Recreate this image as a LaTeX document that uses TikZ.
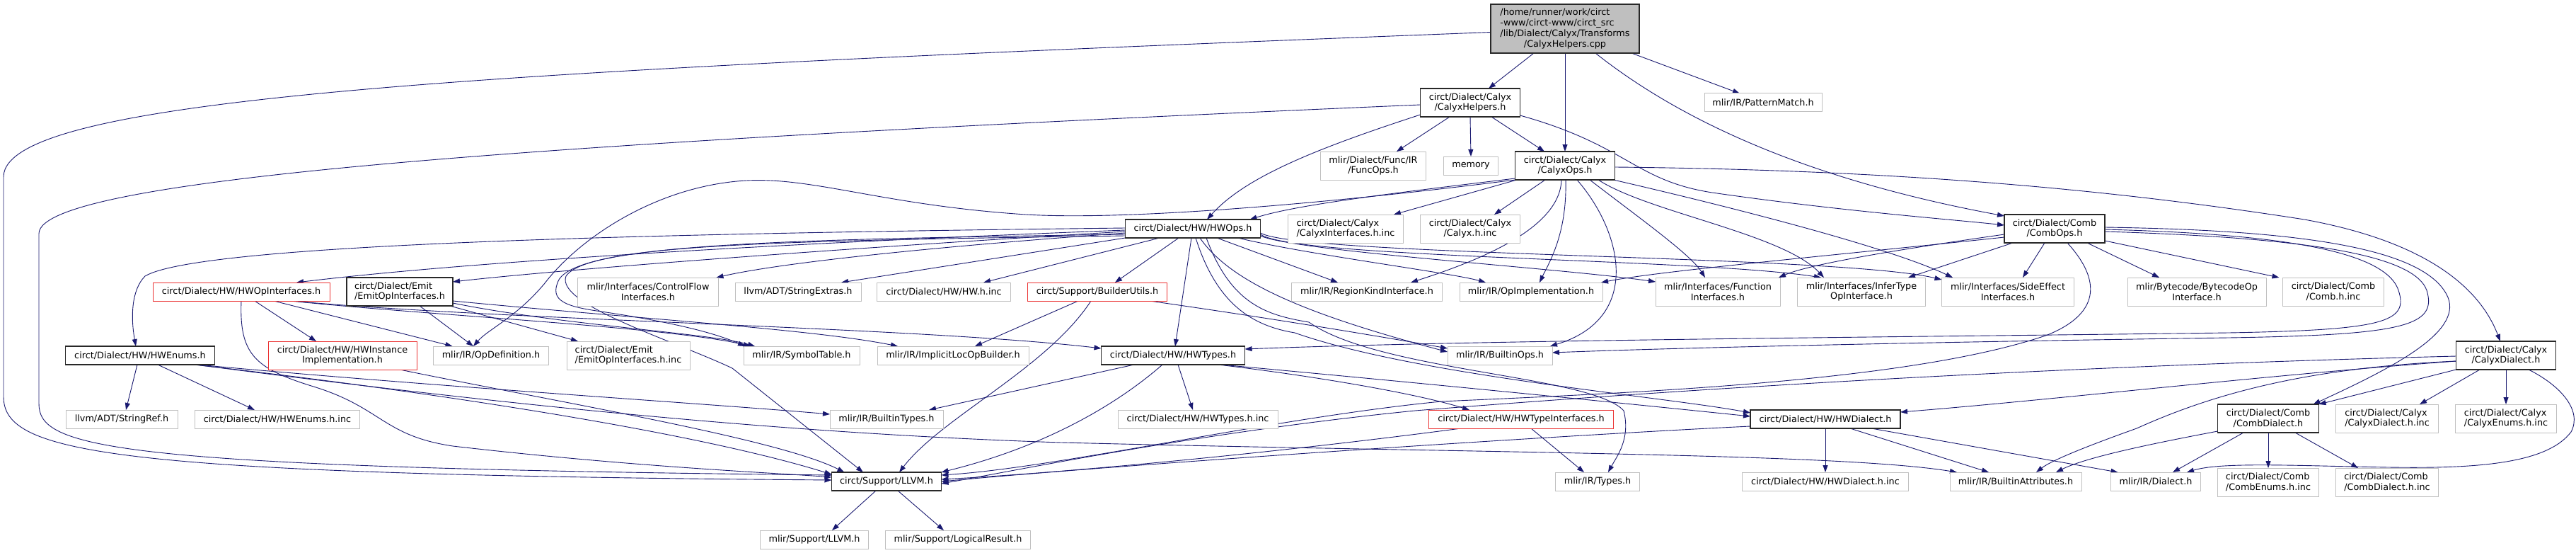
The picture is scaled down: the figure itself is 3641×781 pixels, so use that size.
\documentclass[tikz,border=0pt]{standalone}
\usepackage{fontspec}
\usepackage{tikz}
\usetikzlibrary{arrows.meta, backgrounds}
\newfontfamily\dgfont{DejaVu Sans}
\definecolor{edgeblue}{RGB}{25,25,112}
\definecolor{extgray}{RGB}{191,191,191}
\definecolor{rootgray}{RGB}{191,191,191}
\definecolor{docedge}{RGB}{40,40,40}
\definecolor{truncred}{RGB}{235,50,50}
\newlength\lblw
\newcommand\twoline[2]{\settowidth\lblw{#1}\setbox0\hbox{#2}\ifdim\wd0>\lblw \lblw=\wd0 \fi\makebox[\lblw][l]{#1}\\#2}

\begin{document}
\begin{tikzpicture}[x=1pt, y=-1pt,
  incbox/.style={rectangle, draw, fill=white, align=center, outer sep=0pt,
    inner xsep=2pt, inner ysep=1pt, minimum height=26pt,
    font=\dgfont\fontsize{12.8pt}{14.7pt}\selectfont},
  extfile/.style={incbox, draw=extgray, line width=1pt},
  docfile/.style={incbox, draw=docedge, line width=1.3pt},
  redfile/.style={incbox, draw=truncred, line width=1pt},
  srcfile/.style={incbox, draw=docedge, fill=rootgray, line width=1.3pt, align=left},
  bw/.style={minimum width=#1},
  tall/.style={minimum height=40pt},
  incl/.style={draw=edgeblue, line width=0.9pt, -{Triangle[length=10pt, width=7pt]}}]
\useasboundingbox (0,0) rectangle (3641,781);

% top levels
\node[srcfile, bw=210pt, minimum height=69pt] (root) at (2212,40.5) {/home/runner/work/circt\\{}-www/circt-www/circt\_src\\/lib/Dialect/Calyx/Transforms\\\settowidth\lblw{/lib/Dialect/Calyx/Transforms}\makebox[\lblw][c]{/CalyxHelpers.cpp}};
\node[docfile, bw=141pt, tall] (helpers) at (2078,145) {\twoline{circt/Dialect/Calyx}{/CalyxHelpers.h}};
\node[extfile, bw=166pt] (pattern) at (2492,145) {mlir/IR/PatternMatch.h};
\node[extfile, bw=149pt, tall] (funcops) at (1941,234) {\twoline{mlir/Dialect/Func/IR}{/FuncOps.h}};
\node[extfile, bw=77pt] (memory) at (2079,234) {memory};
\node[docfile, bw=141pt, tall] (calyxops) at (2212,234) {\twoline{circt/Dialect/Calyx}{/CalyxOps.h}};
\node[docfile, bw=191pt] (hwops) at (1686,323) {circt/Dialect/HW/HWOps.h};
\node[extfile, bw=163pt, tall] (calyxifinc) at (1902,323) {\twoline{circt/Dialect/Calyx}{/CalyxInterfaces.h.inc}};
\node[extfile, bw=141pt, tall] (calyxinc) at (2078,323) {\twoline{circt/Dialect/Calyx}{/Calyx.h.inc}};
\node[docfile, bw=142pt, tall] (combops) at (2904,323) {\twoline{circt/Dialect/Comb}{/CombOps.h}};

% row of interfaces
\node[redfile, bw=250pt] (hwopif) at (341,412) {circt/Dialect/HW/HWOpInterfaces.h};
\node[docfile, bw=150pt, tall] (emitif) at (565,412) {\twoline{circt/Dialect/Emit}{/EmitOpInterfaces.h}};
\node[extfile, bw=199pt, tall] (cfif) at (916,412) {\twoline{mlir/Interfaces/ControlFlow}{Interfaces.h}};
\node[extfile, bw=178pt] (strext) at (1128,412) {llvm/ADT/StringExtras.h};
\node[extfile, bw=189pt] (hwinc) at (1334,412) {circt/Dialect/HW/HW.h.inc};
\node[redfile, bw=197pt] (builder) at (1551,412) {circt/Support/BuilderUtils.h};
\node[extfile, bw=213pt] (regionkind) at (1932,412) {mlir/IR/RegionKindInterface.h};
\node[extfile, bw=202pt] (opimpl) at (2164,412) {mlir/IR/OpImplementation.h};
\node[extfile, bw=176pt, tall] (funcif) at (2428,412) {\twoline{mlir/Interfaces/Function}{Interfaces.h}};
\node[extfile, bw=181pt, tall] (infertype) at (2631,412) {\twoline{mlir/Interfaces/InferType}{OpInterface.h}};
\node[extfile, bw=187pt, tall] (sideeffect) at (2838,412) {\twoline{mlir/Interfaces/SideEffect}{Interfaces.h}};
\node[extfile, bw=196pt, tall] (bytecode) at (3105,412) {\twoline{mlir/Bytecode/BytecodeOp}{Interface.h}};
\node[extfile, bw=143pt, tall] (combinc) at (3298,412) {\twoline{circt/Dialect/Comb}{/Comb.h.inc}};

% middle row
\node[docfile, bw=211pt] (hwenums) at (198,502) {circt/Dialect/HW/HWEnums.h};
\node[redfile, bw=210pt, tall] (hwinst) at (484,502) {\twoline{circt/Dialect/HW/HWInstance}{Implementation.h}};
\node[extfile, bw=163pt] (opdef) at (694,502) {mlir/IR/OpDefinition.h};
\node[extfile, bw=174pt, tall] (emitinc) at (888,502) {\twoline{circt/Dialect/Emit}{/EmitOpInterfaces.h.inc}};
\node[extfile, bw=164pt] (symtab) at (1133,502) {mlir/IR/SymbolTable.h};
\node[extfile, bw=214pt] (implicitloc) at (1347,502) {mlir/IR/ImplicitLocOpBuilder.h};
\node[docfile, bw=203pt] (hwtypes) at (1658,502) {circt/Dialect/HW/HWTypes.h};
\node[extfile, bw=148pt] (builtinops) at (2120,502) {mlir/IR/BuiltinOps.h};
\node[docfile, bw=141pt, tall] (calyxdialect) at (3542,502) {\twoline{circt/Dialect/Calyx}{/CalyxDialect.h}};

\node[extfile, bw=158pt] (strref) at (172,592) {llvm/ADT/StringRef.h};
\node[extfile, bw=233pt] (hwenumsinc) at (392,592) {circt/Dialect/HW/HWEnums.h.inc};
\node[extfile, bw=160pt] (builtintypes) at (1253,592) {mlir/IR/BuiltinTypes.h};
\node[extfile, bw=226pt] (hwtypesinc) at (1693,592) {circt/Dialect/HW/HWTypes.h.inc};
\node[redfile, bw=261pt] (hwtypeif) at (2150,592) {circt/Dialect/HW/HWTypeInterfaces.h};
\node[docfile, bw=212pt] (hwdialect) at (2580,592) {circt/Dialect/HW/HWDialect.h};
\node[docfile, bw=143pt, tall] (combdialect) at (3206,591) {\twoline{circt/Dialect/Comb}{/CombDialect.h}};
\node[extfile, bw=145pt, tall] (calyxdialectinc) at (3374,591) {\twoline{circt/Dialect/Calyx}{/CalyxDialect.h.inc}};
\node[extfile, bw=143pt, tall] (calyxenumsinc) at (3542,591) {\twoline{circt/Dialect/Calyx}{/CalyxEnums.h.inc}};

% bottom rows
\node[docfile, bw=155pt] (llvm) at (1253,680) {circt/Support/LLVM.h};
\node[extfile, bw=119pt] (types) at (2258,680) {mlir/IR/Types.h};
\node[extfile, bw=235pt] (hwdialectinc) at (2580,680) {circt/Dialect/HW/HWDialect.h.inc};
\node[extfile, bw=186pt] (builtinattr) at (2849,680) {mlir/IR/BuiltinAttributes.h};
\node[extfile, bw=127pt] (dialect) at (3047,680) {mlir/IR/Dialect.h};
\node[extfile, bw=143pt, tall] (combenumsinc) at (3206,681) {\twoline{circt/Dialect/Comb}{/CombEnums.h.inc}};
\node[extfile, bw=145pt, tall] (combdialectinc) at (3374,681) {\twoline{circt/Dialect/Comb}{/CombDialect.h.inc}};
\node[extfile, bw=153pt] (mlirllvm) at (1151,762) {mlir/Support/LLVM.h};
\node[extfile, bw=205pt] (logicalres) at (1354,762) {mlir/Support/LogicalResult.h};

\begin{scope}[on background layer]
\fill[white] (0,0) rectangle (3641,781);
% from the .cpp file
\draw[incl] ([xshift=-44pt]root.south) -- ([xshift=26pt]helpers.north);
\draw[incl] (root.south) -- (calyxops.north);
\draw[incl] ([xshift=43pt]root.south) .. controls (2400,190) and (2600,262) .. ([yshift=-2pt]combops.north west);
\draw[incl] ([xshift=94pt]root.south) -- ([xshift=-33pt]pattern.north);
\draw[incl] ([yshift=-5pt]root.west) .. controls (700,100) and (5,135) .. (5,250) -- (5,560) .. controls (5,640) and (150,670) .. ([yshift=2pt]llvm.west);
% from CalyxHelpers.h
\draw[incl] ([yshift=-3pt]helpers.west) .. controls (800,200) and (55,250) .. (55,330) -- (55,570) .. controls (55,632) and (150,660) .. ([yshift=9pt]llvm.west);
\draw[incl] ([xshift=-29pt]helpers.south) -- ([xshift=33pt]funcops.north);
\draw[incl] (helpers.south) -- (memory.north);
\draw[incl] ([xshift=30pt]helpers.south) -- ([xshift=-29pt]calyxops.north);
\draw[incl] ([yshift=3pt]helpers.south west) .. controls (1860,210) and (1760,250) .. ([xshift=20pt]hwops.north);
\draw[incl] ([yshift=2pt]helpers.south east) .. controls (2300,205) and (2310,255) .. (2420,272) .. controls (2600,298) and (2760,310) .. ([yshift=5pt]combops.west);
% from CalyxOps.h
\draw[incl] ([xshift=-68pt]calyxops.south) -- ([xshift=68pt]calyxifinc.north);
\draw[incl] ([xshift=-28pt]calyxops.south) -- ([xshift=34pt]calyxinc.north);
\draw[incl] ([yshift=2pt]calyxops.south west) .. controls (1950,275) and (1830,290) .. ([xshift=-15pt]hwops.north east);
\draw[incl] (calyxops.south west) .. controls (1900,285) and (1600,312) .. (1450,303) .. controls (1250,290) and (1150,250) .. (1055,255) .. controls (930,262) and (820,335) .. (770,400) .. controls (730,448) and (690,465) .. ([xshift=-25pt]opdef.north);
\draw[incl] ([xshift=-5pt]calyxops.south) .. controls (2205,320) and (2100,365) .. ([xshift=62pt]regionkind.north);
\draw[incl] ([xshift=1pt]calyxops.south) .. controls (2215,330) and (2190,370) .. ([xshift=12pt]opimpl.north);
\draw[incl] ([xshift=17pt]calyxops.south) .. controls (2295,330) and (2320,450) .. ([xshift=-3pt]builtinops.north east);
\draw[incl] ([xshift=35pt]calyxops.south) .. controls (2320,310) and (2390,360) .. ([xshift=-18pt]funcif.north);
\draw[incl] ([xshift=47pt]calyxops.south) .. controls (2330,300) and (2520,330) .. ([xshift=-53pt]infertype.north);
\draw[incl] ([xshift=-2pt]calyxops.south east) .. controls (2350,270) and (2650,340) .. ([xshift=-78pt]sideeffect.north);
\draw[incl] ([yshift=-2pt]calyxops.east) .. controls (2700,240) and (3000,270) .. (3257,310) .. controls (3450,345) and (3510,420) .. ([xshift=-8pt]calyxdialect.north);
% from CombOps.h
\draw[incl] ([yshift=-8pt]combops.west) .. controls (2700,350) and (2560,372) .. ([xshift=-2pt]funcif.north east);
\draw[incl] ([yshift=-12pt]combops.west) .. controls (2600,360) and (2350,382) .. ([xshift=-2pt]opimpl.north east);
\draw[incl] ([xshift=12pt]combops.south west) -- ([xshift=66pt]infertype.north);
\draw[incl] ([xshift=-14pt]combops.south) -- ([xshift=21pt]sideeffect.north);
\draw[incl] ([xshift=46pt]combops.south) -- ([xshift=-53pt]bytecode.north);
\draw[incl] ([yshift=3pt]combops.south east) -- ([xshift=-5pt]combinc.north west);
\draw[incl] ([yshift=2pt]combops.east) .. controls (3250,325) and (3430,350) .. (3460,420) .. controls (3480,470) and (3380,520) .. ([xshift=-8pt]combdialect.north east);
\draw[incl] ([yshift=-1pt]combops.east) .. controls (3200,330) and (3370,350) .. (3390,410) .. controls (3405,455) and (3370,466) .. (3150,470) .. controls (2700,476) and (2100,480) .. ([yshift=9pt]hwtypes.east);
\draw[incl] ([yshift=-4pt]combops.east) .. controls (3230,335) and (3410,355) .. (3430,410) .. controls (3445,460) and (3400,473) .. (3150,477) .. controls (2800,482) and (2400,490) .. ([yshift=4pt]builtinops.east);
\draw[incl] ([xshift=18pt]combops.south) .. controls (2965,390) and (2975,440) .. (2894,473) .. controls (2700,540) and (2300,555) .. (2037,567) .. controls (1800,590) and (1500,660) .. ([yshift=9pt]llvm.east);
% from CalyxDialect.h
\draw[incl] ([xshift=-37pt]calyxdialect.south) -- ([xshift=46pt]calyxdialectinc.north);
\draw[incl] (calyxdialect.south) -- (calyxenumsinc.north);
\draw[incl] (calyxdialect.south west) -- (combdialect.north east);
\draw[incl] ([xshift=32pt]calyxdialect.south) .. controls (3620,545) and (3650,580) .. (3634,610) .. controls (3600,655) and (3500,662) .. (3376,660) .. controls (3250,658) and (3140,652) .. ([xshift=44pt]dialect.north);
\draw[incl] ([yshift=-1pt]calyxdialect.west) .. controls (3000,515) and (2500,540) .. (2000,580) .. controls (1700,610) and (1450,662) .. ([yshift=-3pt]llvm.east);
\draw[incl] ([yshift=-8pt]calyxdialect.west) .. controls (3200,530) and (2900,565) .. ([yshift=-3pt]hwdialect.north east);
\draw[incl] ([yshift=-8pt]calyxdialect.west) .. controls (3250,520) and (3120,560) .. (3020,605) .. controls (2950,630) and (2900,650) .. ([xshift=29pt]builtinattr.north);
% from CombDialect.h
\draw[incl] ([xshift=-35pt]combdialect.south) -- ([xshift=24pt]dialect.north);
\draw[incl] (combdialect.south) -- (combenumsinc.north);
\draw[incl] ([xshift=38pt]combdialect.south) -- ([xshift=-41pt]combdialectinc.north);
\draw[incl] ([yshift=2pt]combdialect.south west) .. controls (3050,625) and (2950,645) .. ([xshift=57pt]builtinattr.north);
% from HWDialect.h
\draw[incl] (hwdialect.south) -- (hwdialectinc.north);
\draw[incl] ([xshift=35pt]hwdialect.south) -- ([xshift=-38pt]builtinattr.north);
\draw[incl] ([xshift=65pt]hwdialect.south) -- ([xshift=10pt]dialect.north west);
\draw[incl] ([yshift=-10pt]hwdialect.west) .. controls (2200,615) and (1600,655) .. (llvm.east);
% from HWTypes.h
\draw[incl] ([xshift=-55pt]hwtypes.south) -- ([xshift=60pt]builtintypes.north);
\draw[incl] ([xshift=-15pt]hwtypes.south) .. controls (1580,570) and (1480,630) .. (llvm.north east);
\draw[incl] ([xshift=7pt]hwtypes.south) -- ([xshift=-7pt]hwtypesinc.north);
\draw[incl] ([xshift=-38pt]hwtypes.south east) .. controls (1850,530) and (2000,555) .. ([xshift=-73pt]hwtypeif.north);
\draw[incl] ([xshift=-34pt]hwtypes.south east) .. controls (2000,540) and (2300,570) .. ([yshift=4pt]hwdialect.west);
% from HWTypeInterfaces.h
\draw[incl] ([xshift=14pt]hwtypeif.south) -- ([xshift=-19pt]types.north);
\draw[incl] ([xshift=-85pt]hwtypeif.south) .. controls (1800,640) and (1500,668) .. ([yshift=3pt]llvm.east);
% from BuilderUtils.h
\draw[incl] ([xshift=-27pt]builder.south) -- ([xshift=31pt]implicitloc.north);
\draw[incl] ([xshift=-9pt]builder.south) .. controls (1480,520) and (1330,590) .. ([xshift=18pt]llvm.north);
\draw[incl] ([xshift=74pt]builder.south) .. controls (1800,450) and (1950,475) .. ([yshift=-3pt]builtinops.north west);
% from HWOpInterfaces.h
\draw[incl] ([xshift=19pt]hwopif.south) -- ([xshift=-37pt]hwinst.north);
\draw[incl] ([xshift=46pt]hwopif.south) -- ([xshift=27pt]opdef.north west);
\draw[incl] ([xshift=70pt]hwopif.south) .. controls (600,445) and (950,462) .. ([xshift=-72pt]symtab.north);
\draw[incl] ([xshift=72pt]hwopif.south) .. controls (700,452) and (1300,462) .. ([yshift=-3pt]hwtypes.north west);
\draw[incl] (hwopif.south) .. controls (338,500) and (360,520) .. (440,545) .. controls (540,575) and (540,615) .. (640,630) .. controls (900,660) and (1100,668) .. ([yshift=6pt]llvm.west);
% from EmitOpInterfaces.h
\draw[incl] ([xshift=28pt]emitif.south) -- ([xshift=-25pt]opdef.north);
\draw[incl] ([xshift=-4pt]emitif.south east) -- ([xshift=-71pt]emitinc.north);
\draw[incl] ([yshift=4pt]emitif.south east) .. controls (800,460) and (1000,470) .. ([xshift=-66pt]symtab.north);
\draw[incl] ([yshift=7pt]emitif.south east) .. controls (900,450) and (1150,465) .. ([xshift=-78pt]implicitloc.north);
% from HWEnums.h
\draw[incl] ([xshift=-4pt]hwenums.south) -- ([xshift=6pt]strref.north);
\draw[incl] ([xshift=25pt]hwenums.south) -- ([xshift=-32pt]hwenumsinc.north);
\draw[incl] ([xshift=-30pt]hwenums.south east) .. controls (500,540) and (950,600) .. ([yshift=10pt]llvm.west);
\draw[incl] ([xshift=-27pt]hwenums.south east) .. controls (700,570) and (1100,612) .. (1500,625) .. controls (2100,640) and (2600,640) .. ([xshift=10pt]builtinattr.north west);
\draw[incl] ([xshift=-24pt]hwenums.south east) .. controls (600,545) and (1000,570) .. ([yshift=7pt]builtintypes.west);
% from HWInstanceImplementation.h
\draw[incl] ([xshift=81pt]hwinst.south) .. controls (800,570) and (1100,620) .. ([xshift=18pt]llvm.north west);
% from HWOps.h
\draw[incl] ([yshift=-2pt]hwops.west) .. controls (1200,340) and (700,365) .. ([xshift=78pt]hwopif.north);
\draw[incl] ([yshift=1pt]hwops.west) .. controls (900,330) and (280,345) .. (205,390) .. controls (185,410) and (185,450) .. ([xshift=-6pt]hwenums.north);
\draw[incl] ([yshift=-4pt]hwops.west) .. controls (1200,350) and (800,380) .. ([yshift=-6pt]emitif.north east);
\draw[incl] ([yshift=-6pt]hwops.west) .. controls (1300,350) and (1100,372) .. ([xshift=-3pt]cfif.north east);
\draw[incl] ([yshift=-8pt]hwops.west) .. controls (1100,338) and (820,345) .. (790,395) .. controls (775,425) and (800,433) .. (850,440) .. controls (950,455) and (1010,470) .. ([xshift=-80pt]symtab.north);
\draw[incl] ([yshift=-10pt]hwops.west) .. controls (1100,340) and (830,345) .. (800,390) .. controls (785,430) and (950,480) .. (1035,520) -- ([xshift=-33pt]llvm.north);
\draw[incl] (hwops.south west) -- ([xshift=61pt]strext.north);
\draw[incl] ([xshift=-47pt]hwops.south) -- ([xshift=56pt]hwinc.north);
\draw[incl] ([xshift=-20pt]hwops.south) -- ([xshift=25pt]builder.north);
\draw[incl] ([xshift=-2pt]hwops.south) -- ([xshift=3pt]hwtypes.north);
\draw[incl] ([xshift=34pt]hwops.south) -- ([xshift=-41pt]regionkind.north);
\draw[incl] ([xshift=-32pt]hwops.south east) .. controls (1850,360) and (2050,385) .. ([xshift=-64pt]opimpl.north);
\draw[incl] ([yshift=-10pt]hwops.east) .. controls (1830,355) and (2200,378) .. ([yshift=-6pt]funcif.north west);
\draw[incl] ([yshift=-8pt]hwops.east) .. controls (1830,365) and (2400,365) .. ([xshift=-57pt]infertype.north);
\draw[incl] ([yshift=-6pt]hwops.east) .. controls (1840,362) and (2600,360) .. ([yshift=-3pt]sideeffect.north west);
\draw[incl] ([xshift=10pt]hwops.south) .. controls (1740,400) and (1850,445) .. ([yshift=5pt]builtinops.west);
\draw[incl] ([xshift=19pt]hwops.south) .. controls (1740,430) and (1790,445) .. (1850,455) .. controls (1950,525) and (2250,530) .. (2295,580) .. controls (2305,620) and (2285,645) .. ([xshift=15pt]types.north);
\draw[incl] ([xshift=4pt]hwops.south) .. controls (1720,430) and (1770,460) .. (1830,470) .. controls (2000,530) and (2350,560) .. ([yshift=9pt]hwdialect.west);
% from circt/Support/LLVM.h
\draw[incl] ([xshift=-15pt]llvm.south) -- ([xshift=25pt]mlirllvm.north);
\draw[incl] ([xshift=16pt]llvm.south) -- ([xshift=-20pt]logicalres.north);
\end{scope}
\end{tikzpicture}
\end{document}
